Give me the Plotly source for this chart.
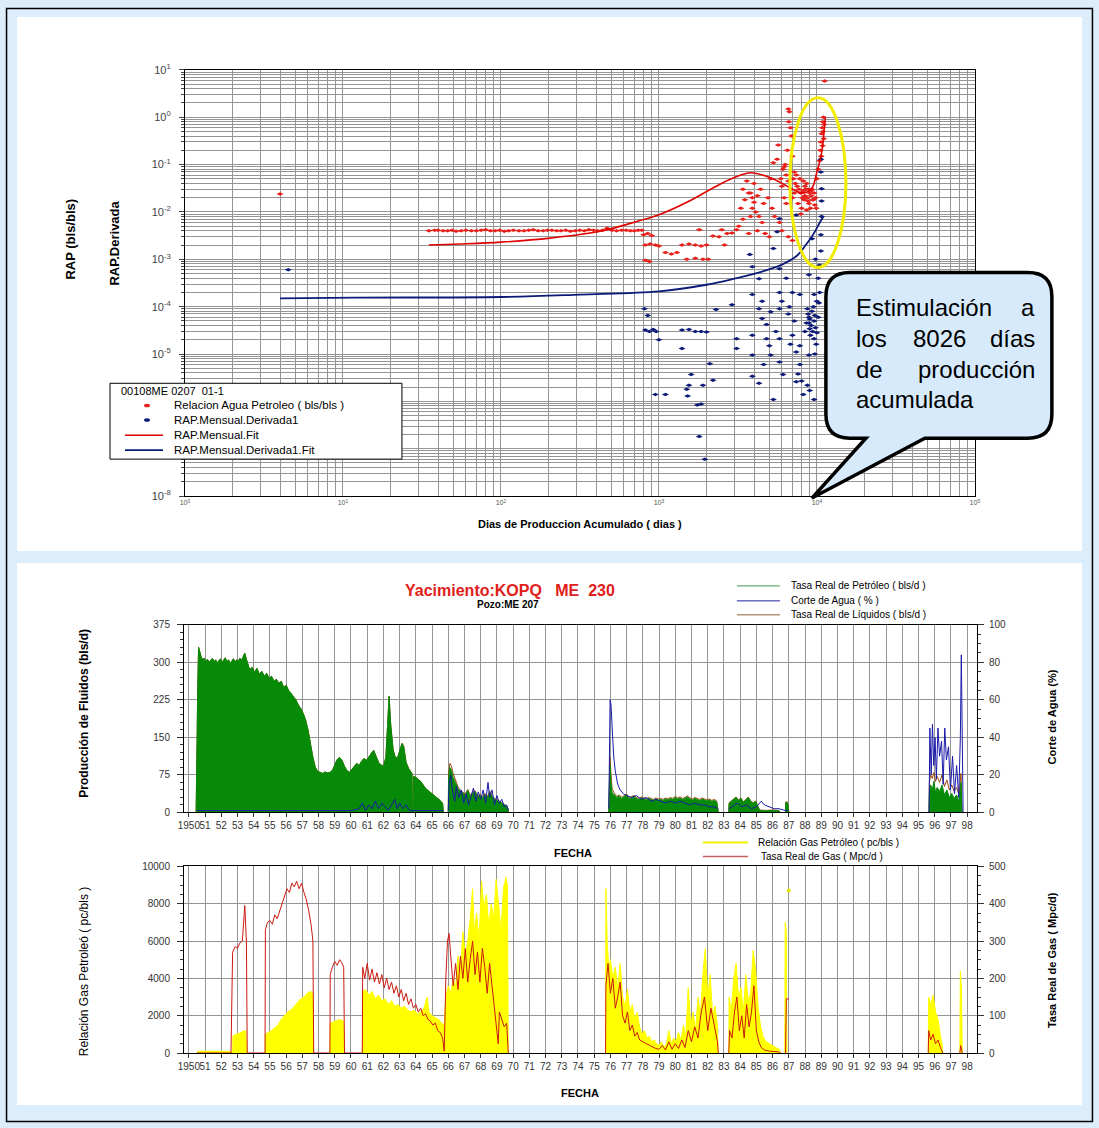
import plotly.graph_objects as go

W, H = 1099, 1128
FONT = "Arial, Liberation Sans, sans-serif"
# the page is photographed with a small offset/scale; map reference pixels onto paper
OFF = 6.0
SW = W * W / (W + 2 * OFF)
SH = H * H / (H + 2 * OFF)


def PX(x):
    return (x - OFF) / SW


def PY(y):
    return 1 - (y - OFF) / SH


# ---------------- TOP CHART DATA (log-log) ----------------
RAP_DAYS = [4, 35, 38, 40, 43, 46, 49, 52, 56, 60, 65, 70, 75, 80, 86, 92, 98, 105, 112, 120, 130, 140, 150, 160, 172,
            185, 197, 210, 225, 240, 257, 275, 295, 315, 337, 360, 385, 410, 440, 470, 505, 540, 580, 620, 660, 700,
            740, 780,
            800, 850, 900, 820, 880, 950, 1000, 820, 870, 1100, 1200, 1300, 1400, 1550, 1700, 1850, 2000, 1500, 1700, 1900, 2050,
            2200, 2400, 2600, 2700, 2900, 1800, 2500, 3100,
            3200, 3400, 3300, 3500, 3700, 3400, 3600, 3900, 4100, 4300, 4500, 4200, 4700, 5000, 4600, 4900, 5200, 5400, 5100,
            5300, 5600, 5700, 5900, 6000, 6200, 6400, 6100, 6300, 6500, 6600, 6700, 6650, 6800, 6900, 7000, 7200, 7100, 7300,
            7500, 7700, 7900, 8100, 8300, 8500, 7600, 8000, 8700, 8900, 9100, 9300, 9600, 9800, 7400, 7800, 8200, 5800, 6000,
            6600, 7000, 8400, 8800, 9200, 9500, 7900, 8600,
            3700, 3800, 3900, 4000, 4200, 4400, 4000, 3800, 8200, 8400, 8600, 8800, 9000, 9200, 9400, 9700, 9900, 7000,
            7200, 6800, 6600, 6400, 6200,
            10000, 10200, 10400, 10500, 10600, 10700, 10800, 10900, 11000, 11100, 10950, 11050, 10850, 10650, 11200]
RAP_VAL = [0.024, 0.004, 0.0041, 0.0041, 0.004, 0.004, 0.0041, 0.0039, 0.004, 0.0041, 0.004, 0.004, 0.0041, 0.0042, 0.004,
           0.004, 0.0041, 0.0039, 0.004, 0.0041, 0.004, 0.004, 0.0041, 0.0042, 0.004,
           0.004, 0.0041, 0.0041, 0.004, 0.004, 0.0041, 0.0039, 0.004, 0.0041, 0.004, 0.0042, 0.0041, 0.004, 0.0041,
           0.0045, 0.0041, 0.004, 0.0041, 0.0041, 0.004, 0.004,
           0.0041, 0.0041,
           0.0033, 0.0035, 0.0032, 0.002, 0.0021, 0.002, 0.0019, 0.00095, 0.0009, 0.0014, 0.0013, 0.0014, 0.002, 0.0021,
           0.002, 0.0019, 0.002, 0.001, 0.00105, 0.001, 0.001, 0.0031, 0.003, 0.002, 0.0035, 0.0036, 0.0042, 0.0042, 0.0042,
           0.005, 0.007, 0.012, 0.018, 0.025, 0.03, 0.045, 0.02, 0.01, 0.008, 0.006, 0.004, 0.0035, 0.003, 0.015, 0.02,
           0.012, 0.008, 0.05, 0.11, 0.13, 0.26, 0.05, 0.035, 0.02, 0.015, 0.08, 0.1, 0.2, 1.5, 1.3, 0.8, 0.6, 0.4, 0.15,
           0.07, 0.05, 0.04, 0.035, 0.03, 0.025, 0.02, 0.018, 0.03, 0.015, 0.012, 0.02, 0.015, 0.012, 0.03, 0.025, 0.02,
           0.06, 0.05, 0.045, 0.006, 0.004, 0.003, 0.0025, 0.022, 0.017, 0.028, 0.018, 0.009, 0.011,
           0.0035, 0.008, 0.012, 0.016, 0.022, 0.03, 0.04, 0.025, 0.028, 0.035, 0.04, 0.03, 0.025, 0.022, 0.018, 0.014,
           0.012, 0.02, 0.025, 0.03, 0.045, 0.06, 0.09,
           0.05, 0.08, 0.12, 0.2, 0.3, 0.45, 0.6, 0.8, 1.0, 0.7, 0.5, 0.35, 0.25, 0.15, 5.8]

DER_DAYS = [4.5, 810, 850, 820, 870, 920, 960, 1000, 1400, 1550, 1700, 1850, 2000, 2300, 2900, 1400, 1600, 1550, 950, 1100,
            1500, 1520, 1750, 1850, 2100, 2200, 1900, 1800, 1950,
            3760, 3900, 4300, 3900, 4500, 5800, 6400, 7000, 7800, 5800, 5300, 5600, 5800, 7400, 8900, 9600, 10000,
            4300, 5100, 5800, 6700, 8700, 8900, 8900, 9000, 9600, 4500, 4800, 3900, 4800, 5800, 7000, 7800, 9600, 3100,
            3100, 3900, 5100, 5800, 7400, 8900, 7800, 7400, 8700, 9600, 5300, 4300, 3900, 6100, 8200,
            8800, 9000, 9200, 9400, 9100, 8600, 9300, 9500, 9700, 8400, 9800, 10000, 9900, 9700, 10200, 10300, 10400,
            10200, 6000, 6600, 7200, 5500, 5000, 4600, 6800, 7600, 8000, 9000,
            10600, 10600, 10700, 10700, 10700, 10600, 10600, 10400, 9800, 9300]
DER_VAL = [6e-4, 9e-5, 6.5e-5, 3.2e-5, 3e-5, 3.3e-5, 3e-5, 2e-5, 3.2e-5, 3.3e-5, 3e-5, 3e-5, 2.9e-5, 8.7e-5, 1.1e-4,
           1.3e-5, 3.7e-6, 2.2e-6, 1.4e-6, 1.4e-6, 1.8e-6, 1.3e-6, 8.4e-7, 8.8e-7, 6.2e-6, 2.8e-6, 2.2e-6, 1.8e-7, 6e-8,
           1.26e-3, 7e-4, 3.9e-4, 1.8e-4, 1.3e-4, 2e-4, 4e-4, 2e-4, 1.8e-4, 6.3e-4, 1.7e-3, 3.8e-3, 7.2e-3, 8.6e-3,
           4.7e-4, 1.8e-4, 1.3e-4, 9e-5, 7.8e-5, 9e-5, 1e-4, 9e-5, 6e-5, 4.5e-5, 3.4e-5, 5e-5, 5.6e-5, 4.2e-5, 2.5e-5,
           2.1e-5, 2.1e-5, 2.5e-5, 1.5e-5, 2.1e-5, 2.1e-5, 1.3e-5, 9.5e-6, 9.5e-6, 6.8e-6, 1.1e-5, 9.5e-6, 6e-6, 2.6e-6,
           2.2e-6, 1.1e-6, 1.1e-6, 2.4e-6, 3.4e-6, 3.7e-6, 1.4e-6,
           7e-5, 5.5e-5, 4e-5, 3e-5, 2.5e-5, 4.5e-5, 8e-5, 1e-4, 6.5e-5, 3e-5, 3.6e-5, 2.8e-5, 1.6e-5, 1e-5, 6e-5,
           1.2e-4, 2e-4, 4e-4, 1.3e-4, 7e-5, 5e-5, 3e-5, 1.5e-5, 6e-6, 1.6e-5, 3.8e-6, 2.7e-6, 1.7e-6,
           0.13, 0.07, 0.031, 0.017, 0.008, 0.0033, 0.0015, 7.5e-4, 1e-3, 2.7e-3]

FIT_DAYS = [35, 55, 100, 205, 425, 760, 1000, 1560, 2450, 3300, 3800, 4700, 5800, 7200, 8100, 9300, 10000, 10500, 10800,
            11100, 11300]
FIT_VAL = [0.0020, 0.0021, 0.0023, 0.0028, 0.0039, 0.0066, 0.0087, 0.017, 0.039, 0.060, 0.067, 0.058, 0.043, 0.029, 0.025,
           0.032, 0.07, 0.13, 0.21, 0.5, 1.0]

DFIT_DAYS = [4, 12, 100, 316, 1000, 2000, 3000, 4500, 6000, 7500, 8500, 9500, 10500, 11000]
DFIT_VAL = [1.5e-4, 1.55e-4, 1.6e-4, 1.8e-4, 2.1e-4, 2.9e-4, 3.9e-4, 5.5e-4, 7.7e-4, 1.2e-3, 2.0e-3, 3.4e-3, 6.2e-3, 8e-3]

LOG_X_TICKS = [1, 10, 100, 1000, 10000, 100000]
LOG_X_LABELS = ["10<sup>0</sup>", "10<sup>1</sup>", "10<sup>2</sup>", "10<sup>3</sup>", "10<sup>4</sup>", "10<sup>5</sup>"]
# 10^-6 and 10^-7 sit under the legend box in the reference, so they carry no visible label
LOG_Y_TICKS = [1e-8, 1e-7, 1e-6, 1e-5, 1e-4, 1e-3, 1e-2, 1e-1, 1, 10]
LOG_Y_LABELS = ["10<sup>-8</sup>", "", "", "10<sup>-5</sup>", "10<sup>-4</sup>",
                "10<sup>-3</sup>", "10<sup>-2</sup>", "10<sup>-1</sup>", "10<sup>0</sup>", "10<sup>1</sup>"]

TOP_LEGEND_TITLE = "00108ME 0207&nbsp;&nbsp;01-1"
TOP_NAMES = ["Relacion Agua Petroleo ( bls/bls )", "RAP.Mensual.Derivada1", "RAP.Mensual.Fit",
             "RAP.Mensual.Derivada1.Fit"]

# ---------------- PRODUCTION CHART DATA ----------------
OIL_T = [1950.45, 1950.5, 1950.55, 1950.6, 1950.65, 1950.75, 1950.85, 1950.95, 1951.05, 1951.15, 1951.25, 1951.35,
         1951.45, 1951.55, 1951.65, 1951.75, 1951.85, 1951.95, 1952.05, 1952.15, 1952.25, 1952.35, 1952.45, 1952.55,
         1952.65, 1952.75, 1952.85, 1952.95, 1953.05, 1953.15, 1953.25, 1953.35, 1953.45, 1953.55, 1953.65, 1953.75,
         1953.9, 1954.05, 1954.2, 1954.35, 1954.5, 1954.65, 1954.8, 1954.95, 1955.1, 1955.25, 1955.4, 1955.55, 1955.7,
         1955.85, 1956.0, 1956.15, 1956.3, 1956.45, 1956.6, 1956.75, 1956.9, 1957.05, 1957.2, 1957.35, 1957.5, 1957.65,
         1957.8, 1957.95, 1958.1, 1958.25, 1958.4, 1958.55, 1958.7, 1958.85, 1959.0, 1959.15, 1959.3, 1959.45, 1959.6,
         1959.75, 1959.9, 1960.05, 1960.2, 1960.35, 1960.5, 1960.65, 1960.8, 1960.95, 1961.1, 1961.25, 1961.4, 1961.55,
         1961.7, 1961.85, 1962.0, 1962.15, 1962.25, 1962.35, 1962.45, 1962.6, 1962.75, 1962.9, 1963.05, 1963.15, 1963.25,
         1963.4, 1963.55, 1963.7, 1963.76, 1963.78, 1963.83, 1963.85, 1964.0, 1964.15, 1964.3, 1964.45, 1964.6, 1964.75,
         1964.9, 1965.05, 1965.2, 1965.35, 1965.5, 1965.65, 1965.7, None,
         1966.0, 1966.02, 1966.1, 1966.2, 1966.3, 1966.45, 1966.6, 1966.75, 1966.9, 1967.05, 1967.2, 1967.35, 1967.5,
         1967.65, 1967.8, 1967.95, 1968.1, 1968.25, 1968.4, 1968.55, 1968.7, 1968.85, 1969.0, 1969.15, 1969.3, 1969.45,
         1969.6, 1969.68, 1969.7, None,
         1975.9, 1975.92, 1975.97, 1976.03, 1976.1, 1976.25, 1976.4, 1976.55, 1976.7, 1976.85, 1977.0, 1977.15, 1977.3,
         1977.45, 1977.6, 1977.75, 1977.9, 1978.05, 1978.2, 1978.35, 1978.5, 1978.65, 1978.8, 1978.95, 1979.1, 1979.25,
         1979.4, 1979.55, 1979.7, 1979.85, 1980.0, 1980.15, 1980.3, 1980.45, 1980.6, 1980.75, 1980.9, 1981.05, 1981.2,
         1981.35, 1981.5, 1981.65, 1981.8, 1981.95, 1982.1, 1982.25, 1982.4, 1982.55, 1982.65, None,
         1983.3, 1983.32, 1983.45, 1983.6, 1983.75, 1983.9, 1984.05, 1984.2, 1984.35, 1984.5, 1984.65, 1984.8, 1984.95,
         1985.1, 1985.2, 1985.6, 1986.0, 1986.4, 1986.45, None,
         1986.8, 1986.82, 1986.9, 1986.95, 1987.0, None,
         1995.65, 1995.67, 1995.75, 1995.85, 1995.95, 1996.05, 1996.15, 1996.3, 1996.45, 1996.6, 1996.75, 1996.9,
         1997.05, 1997.2, 1997.35, 1997.5, 1997.62, 1997.68]
OIL_Q = [0, 160, 250, 330, 322, 312, 305, 308, 302, 306, 300, 304,
         308, 301, 305, 299, 303, 307, 300, 304, 309, 301, 305, 298,
         303, 307, 300, 305, 302, 308, 304, 312, 318, 306, 295, 285,
         290, 280, 288, 276, 282, 272, 278, 268, 272, 262, 266, 258, 262,
         250, 254, 244, 238, 232, 225, 215, 208, 198, 185, 165, 135, 110,
         90, 82, 80, 78, 81, 79, 80, 84, 95, 106, 110, 104, 92,
         84, 80, 85, 92, 98, 94, 102, 108, 104, 112, 118, 124, 112,
         100, 95, 92, 110, 170, 232, 175, 125, 108, 112, 128, 138, 132,
         100, 88, 82, 78, 0, 0, 72, 70, 66, 62, 55, 48, 44,
         40, 36, 32, 28, 24, 18, 0, None,
         0, 70, 90, 84, 70, 58, 48, 42, 38, 35, 44, 32, 38,
         42, 30, 34, 30, 36, 28, 40, 32, 26, 24, 22, 18, 16,
         12, 8, 0, None,
         0, 60, 95, 60, 40, 35, 30, 33, 28, 32, 35, 27, 30,
         32, 28, 26, 29, 27, 25, 28, 26, 24, 27, 25, 26, 24,
         27, 25, 28, 26, 30, 27, 29, 26, 28, 31, 27, 25, 28,
         26, 24, 27, 25, 23, 25, 22, 24, 21, 0, None,
         0, 18, 22, 26, 30, 24, 28, 20, 26, 30, 22, 18, 22,
         12, 4, 3, 4, 3, 0, None,
         0, 20, 20, 15, 0, None,
         0, 35, 55, 45, 62, 40, 50, 42, 55, 35, 45, 30,
         38, 28, 35, 22, 60, 0]
# liquids rate, sampled on the same dates as OIL_T
LIQ_Q = [0, 160, 250, 330, 322, 312, 305, 308, 302, 306, 300, 304,
         308, 301, 305, 299, 303, 307, 300, 304, 309, 301, 305, 298,
         303, 307, 300, 305, 302, 308, 304, 312, 318, 306, 295, 285,
         290, 280, 288, 276, 282, 272, 278, 268, 272, 262, 266, 258, 262,
         250, 254, 244, 238, 232, 225, 215, 208, 198, 185, 165, 135, 110,
         90, 82, 80, 78, 81, 79, 80, 84, 95, 106, 110, 104, 92,
         84, 80, 85, 92, 98, 94, 102, 108, 104, 112, 118, 124, 112,
         100, 95, 92, 110, 170, 232, 175, 125, 108, 112, 128, 138, 132,
         100, 88, 82, 78, 0, 0, 72, 70, 66, 62, 55, 48, 44,
         40, 36, 32, 28, 24, 18, 0, None,
         0, 80, 98, 92, 78, 62, 51, 44, 40, 37, 46, 34, 40,
         44, 32, 36, 32, 38, 30, 43, 34, 28, 26, 23, 19, 17,
         13, 8, 0, None,
         0, 75, 110, 80, 48, 38, 32, 35, 30, 34, 37, 29, 32,
         34, 30, 28, 31, 29, 27, 30, 28, 26, 29, 27, 28, 26,
         29, 27, 30, 28, 32, 29, 31, 28, 30, 33, 29, 27, 30,
         28, 26, 29, 27, 25, 27, 24, 26, 23, 0, None,
         0, 19, 23, 27, 31, 25, 29, 21, 27, 31, 23, 19, 23,
         13, 5, 4, 5, 4, 0, None,
         0, 21, 21, 16, 0, None,
         0, 60, 75, 68, 80, 62, 72, 60, 75, 52, 65, 45,
         55, 42, 50, 35, 78, 0]

WC_T = [1950.5, 1952.0, 1954.0, 1956.0, 1958.0, 1960.0, 1960.5, 1960.7, 1960.9, 1961.1, 1961.3, 1961.5, 1961.7, 1961.9,
        1962.1, 1962.3, 1962.5, 1962.7, 1962.85, 1963.0, 1963.2, 1963.4, 1963.6, 1964.0, 1965.0, 1965.7, None,
        1966.0, 1966.05, 1966.15, 1966.25, 1966.4, 1966.5, 1966.65, 1966.8, 1966.95, 1967.1, 1967.25, 1967.4, 1967.55,
        1967.7, 1967.85, 1968.0, 1968.15, 1968.3, 1968.45, 1968.55, 1968.7, 1968.85, 1969.0, 1969.15, 1969.3, 1969.45,
        1969.6, 1969.7, None,
        1975.9, 1975.93, 1975.98, 1976.03, 1976.1, 1976.2, 1976.3, 1976.45, 1976.6, 1976.8, 1977.0, 1977.3, 1977.6,
        1977.9, 1978.2, 1978.5, 1978.8, 1979.1, 1979.4, 1979.7, 1980.0, 1980.3, 1980.6, 1980.9, 1981.2, 1981.5, 1981.8,
        1982.1, 1982.4, 1982.65, None,
        1983.3, 1983.5, 1983.8, 1984.1, 1984.4, 1984.7, 1985.0, 1985.3, 1985.5, 1985.8, 1986.1, 1986.4, 1986.8, 1987.0,
        None,
        1995.65, 1995.7, 1995.78, 1995.86, 1995.94, 1996.02, 1996.1, 1996.2, 1996.3, 1996.42, 1996.52, 1996.62,
        1996.72, 1996.85, 1996.97, 1997.1, 1997.22, 1997.35, 1997.48, 1997.58, 1997.64, 1997.7, 1997.75]
WC_V = [1, 1, 1, 1, 1, 1, 2, 5, 1, 4, 2, 6, 2, 5,
        3, 1, 4, 7, 2, 5, 2, 4, 1, 1, 1, 1, None,
        1, 15, 20, 12, 6, 14, 8, 12, 5, 10, 4, 9, 13,
        6, 11, 7, 12, 5, 16, 8, 12, 4, 9, 5, 7, 3,
        4, 1, None,
        2, 45, 60, 58, 45, 30, 22, 15, 12, 10, 9, 8, 9,
        7, 8, 6, 7, 6, 5, 6, 5, 6, 5, 4, 5, 4, 4,
        3, 3, 2, None,
        2, 3, 5, 3, 4, 2, 3, 6, 4, 3, 2, 2, 1, 1,
        None,
        0, 45, 20, 47, 25, 40, 18, 45, 30, 38, 15, 45,
        28, 35, 12, 30, 10, 25, 8, 40, 84, 30, 0]

PROD_NAMES = ["Tasa Real de Petróleo ( bls/d )", "Corte de Agua ( % )", "Tasa Real de Líquidos ( bls/d )"]

# ---------------- GAS CHART DATA ----------------
GOR_T = [1950.5, 1950.55, 1951.0, 1951.5, 1952.0, 1952.6, 1952.7, 1952.72, 1952.9, 1953.1, 1953.3, 1953.5, 1953.6, None,
         1954.7, 1954.72, 1954.9, 1955.1, 1955.3, 1955.5, 1955.7, 1955.9, 1956.1, 1956.3, 1956.5, 1956.7, 1956.9,
         1957.1, 1957.3, 1957.5, 1957.65, 1957.7, None,
         1958.7, 1958.72, 1959.0, 1959.3, 1959.55, 1959.6, None,
         1960.7, 1960.72, 1960.9, 1961.1, 1961.3, 1961.5, 1961.7, 1961.9, 1962.1, 1962.3, 1962.5, 1962.7, 1962.9,
         1963.1, 1963.3, 1963.5, 1963.7, 1963.9, 1964.1, 1964.3, 1964.5, 1964.7, 1964.8, 1965.0, 1965.2, 1965.4,
         1965.6, 1965.75, 1965.85, 1966.0, 1966.15, 1966.3, 1966.45, 1966.6, 1966.75, 1966.9, 1967.05, 1967.2,
         1967.35, 1967.5, 1967.6, 1967.75, 1967.9, 1968.05, 1968.2, 1968.35, 1968.5, 1968.65, 1968.8, 1968.95,
         1969.1, 1969.25, 1969.4, 1969.55, 1969.65, 1969.7, None,
         1975.7, 1975.72, 1975.8, 1975.9, 1976.0, 1976.15, 1976.3, 1976.45, 1976.6, 1976.75, 1976.9, 1977.05, 1977.2,
         1977.35, 1977.5, 1977.65, 1977.8, 1977.95, 1978.1, 1978.25, 1978.4, 1978.55, 1978.7, 1978.85, 1979.0,
         1979.15, 1979.3, 1979.45, 1979.6, 1979.75, 1979.9, 1980.05, 1980.2, 1980.35, 1980.5, 1980.65, 1980.8,
         1980.95, 1981.1, 1981.25, 1981.4, 1981.55, 1981.7, 1981.85, 1982.0, 1982.15, 1982.3, 1982.45, 1982.6,
         1982.65, None,
         1983.3, 1983.32, 1983.45, 1983.6, 1983.75, 1983.9, 1984.05, 1984.2, 1984.35, 1984.5, 1984.65, 1984.8,
         1984.95, 1985.1, 1985.25, 1985.4, 1985.6, 1985.8, 1986.0, 1986.2, 1986.4, 1986.5, None,
         1986.75, 1986.78, 1986.85, 1986.88, None,
         1995.6, 1995.62, 1995.75, 1995.9, 1996.05, 1996.2, 1996.35, 1996.45, 1996.5, None,
         1997.55, 1997.58, 1997.65, 1997.7]
GOR_V = [0, 90, 100, 90, 100, 90, 0, 900, 1000, 1050, 1150, 1200, 0, None,
         0, 1000, 1100, 1200, 1350, 1500, 1800, 2000, 2200, 2300, 2500, 2700, 2900,
         3000, 3200, 3300, 3200, 0, None,
         0, 1600, 1700, 1800, 1700, 0, None,
         0, 3300, 3400, 3100, 3300, 2900, 3100, 2800, 2900, 2600, 2800, 2500, 2600,
         2400, 2500, 2300, 2200, 2300, 2100, 2200, 2400, 3000, 2200, 2000, 1900, 1800,
         1600, 1500, 3000, 3600, 3200, 4000, 3500, 5200, 4500, 6500, 5200, 6000,
         7200, 8800, 6500, 7500, 6000, 9200, 7800, 8500, 6800, 8000, 7200, 9300,
         8000, 6500, 8800, 9400, 9000, 0, None,
         0, 8800, 6000, 4500, 5000, 4000, 4600, 3500, 4800, 3000, 2500, 3400, 2200,
         2600, 1800, 2200, 1400, 1000, 1200, 800, 900, 600, 700, 500, 400,
         600, 300, 500, 1200, 500, 800, 600, 1100, 700, 1500, 900, 3500,
         1500, 2200, 1200, 3000, 2000, 4200, 5600, 3000, 4200, 2000, 2500, 1500,
         0, None,
         0, 3000, 2200, 4000, 4800, 3000, 3500, 2200, 4200, 2800, 3200, 5500,
         4500, 2500, 1500, 900, 600, 500, 400, 300, 200, 0, None,
         0, 7000, 6500, 0, None,
         0, 3000, 2600, 3100, 2200, 1800, 900, 500, 0, None,
         0, 4400, 3500, 0]
GOR_DOT_T = [1987.0]
GOR_DOT_V = [8700]

GAS_T = [1950.5, 1952.6, 1952.7, 1952.85, 1953.0, 1953.15, 1953.3, 1953.45, 1953.55, 1953.6, 1954.7, 1954.72, 1954.85,
         1955.0, 1955.15, 1955.3, 1955.45, 1955.6, 1955.75, 1955.9, 1956.05, 1956.2, 1956.35, 1956.5, 1956.65, 1956.8,
         1956.95, 1957.1, 1957.25, 1957.4, 1957.55, 1957.65, 1957.7, 1958.7, 1958.72, 1958.85, 1959.0, 1959.15, 1959.3,
         1959.45, 1959.55, 1959.6, 1960.7, 1960.72, 1960.85, 1961.0, 1961.15, 1961.3, 1961.45, 1961.6, 1961.75, 1961.9,
         1962.05, 1962.2, 1962.35, 1962.5, 1962.65, 1962.8, 1962.95, 1963.1, 1963.25, 1963.4, 1963.55, 1963.7, 1963.85,
         1964.0, 1964.15, 1964.3, 1964.45, 1964.6, 1964.75, 1964.9, 1965.05, 1965.2, 1965.35, 1965.5, 1965.65, 1965.75,
         1965.85, 1965.95, 1966.05, 1966.15, 1966.3, 1966.45, 1966.6, 1966.75, 1966.9, 1967.05, 1967.2, 1967.35, 1967.5,
         1967.65, 1967.8, 1967.95, 1968.1, 1968.25, 1968.4, 1968.55, 1968.7, 1968.85, 1969.0, 1969.08, 1969.15, 1969.3,
         1969.45, 1969.6, 1969.7, None,
         1975.7, 1975.72, 1975.85, 1976.0, 1976.15, 1976.3, 1976.45, 1976.6, 1976.75, 1976.9, 1977.05, 1977.2, 1977.35,
         1977.5, 1977.65, 1977.8, 1978.0, 1978.2, 1978.4, 1978.6, 1978.8, 1979.0, 1979.2, 1979.4, 1979.6, 1979.8,
         1980.0, 1980.2, 1980.4, 1980.6, 1980.8, 1981.0, 1981.2, 1981.4, 1981.6, 1981.8, 1982.0, 1982.2, 1982.4,
         1982.6, 1982.65, None,
         1983.3, 1983.35, 1983.5, 1983.65, 1983.8, 1983.95, 1984.1, 1984.25, 1984.4, 1984.55, 1984.7, 1984.85, 1985.0,
         1985.15, 1985.3, 1985.5, 1985.8, 1986.1, 1986.4, 1986.5, None,
         1986.8, 1986.85, 1987.0, None,
         1995.6, 1995.63, 1995.75, 1995.9, 1996.05, 1996.2, 1996.35, 1996.5, None,
         1997.55, 1997.6, 1997.7]
GAS_V = [0, 0, 270, 285, 280, 295, 300, 395, 300, 0, 0, 330, 350,
         355, 345, 370, 360, 380, 395, 420, 440, 430, 455, 445, 460, 440,
         455, 430, 410, 380, 340, 300, 0, 0, 210, 230, 245, 235, 250,
         240, 230, 0, 0, 230, 200, 240, 195, 225, 190, 215, 185, 210,
         175, 200, 170, 190, 160, 180, 150, 170, 140, 160, 130, 145, 120,
         130, 110, 120, 100, 105, 90, 85, 75, 80, 60, 55, 40, 5,
         200, 300, 320, 260, 180, 240, 170, 260, 200, 280, 190, 250, 300,
         210, 270, 190, 280, 230, 160, 240, 180, 120, 60, 25, 110, 90,
         70, 80, 0, None,
         0, 180, 240, 160, 200, 120, 150, 190, 100, 80, 110, 60, 75,
         45, 55, 35, 30, 25, 20, 15, 12, 10, 20, 8, 30, 10,
         25, 12, 35, 15, 60, 30, 70, 40, 110, 150, 60, 120, 70,
         30, 0, None,
         0, 60, 40, 110, 150, 60, 100, 40, 130, 70, 110, 180, 60,
         30, 15, 8, 5, 5, 3, 0, None,
         0, 145, 145, None,
         0, 60, 35, 50, 25, 35, 15, 0, None,
         0, 20, 0]

GAS_NAMES = ["Relación Gas Petróleo ( pc/bls )", "Tasa Real de Gas ( Mpc/d )"]

YEARS = list(range(1950, 1999))
YEAR_LABELS = ["1950"] + ["%02d" % (y % 100) for y in YEARS[1:]]
PROD_TICKS = [0, 75, 150, 225, 300, 375]
WC_TICKS = [0, 20, 40, 60, 80, 100]
GOR_TICKS = [0, 2000, 4000, 6000, 8000, 10000]
GOR_TICK_LABELS = ["0", "2000", "4000", "6000", "8000", "10000"]
GAS_TICKS = [0, 100, 200, 300, 400, 500]

# ---------------- COLOURS ----------------
BG = "#dcedfc"
GRID = "#959595"
RED_PT = "#e8201a"
NAVY = "#0c1a78"
GREEN = "#078a07"
BLUE_WC = "#1a1aa8"
BROWN = "#9a4a10"
YELLOW = "#ffff00"
GASRED = "#cc1a10"

fig = go.Figure()

# ---------- top chart traces ----------
fig.add_trace(go.Scatter(x=RAP_DAYS, y=RAP_VAL, mode="markers", name=TOP_NAMES[0],
                         marker=dict(symbol="diamond-wide", size=5, color=RED_PT), xaxis="x", yaxis="y"))
fig.add_trace(go.Scatter(x=DER_DAYS, y=DER_VAL, mode="markers", name=TOP_NAMES[1],
                         marker=dict(symbol="diamond-wide", size=5, color=NAVY), xaxis="x", yaxis="y"))
fig.add_trace(go.Scatter(x=FIT_DAYS, y=FIT_VAL, mode="lines", name=TOP_NAMES[2],
                         line=dict(color="#e00000", width=1.6, shape="spline"), xaxis="x", yaxis="y"))
fig.add_trace(go.Scatter(x=DFIT_DAYS, y=DFIT_VAL, mode="lines", name=TOP_NAMES[3],
                         line=dict(color=NAVY, width=1.8, shape="spline"), xaxis="x", yaxis="y"))

# ---------- production chart ----------
fig.add_trace(go.Scatter(x=OIL_T, y=LIQ_Q, mode="lines", name=PROD_NAMES[2],
                         line=dict(color=BROWN, width=1), xaxis="x2", yaxis="y2"))
fig.add_trace(go.Scatter(x=OIL_T, y=OIL_Q, mode="lines", fill="tozeroy", fillcolor=GREEN, name=PROD_NAMES[0],
                         line=dict(color=GREEN, width=1), xaxis="x2", yaxis="y2"))
fig.add_trace(go.Scatter(x=WC_T, y=WC_V, mode="lines", name=PROD_NAMES[1],
                         line=dict(color=BLUE_WC, width=1), xaxis="x2", yaxis="y3"))

# ---------- gas chart ----------
fig.add_trace(go.Scatter(x=GOR_T, y=GOR_V, mode="lines", fill="tozeroy", fillcolor=YELLOW, name=GAS_NAMES[0],
                         line=dict(color=YELLOW, width=1), xaxis="x3", yaxis="y4"))
fig.add_trace(go.Scatter(x=GOR_DOT_T, y=GOR_DOT_V, mode="markers", marker=dict(color="#e8e800", size=4),
                         name=GAS_NAMES[0], xaxis="x3", yaxis="y4"))
fig.add_trace(go.Scatter(x=GAS_T, y=GAS_V, mode="lines", name=GAS_NAMES[1],
                         line=dict(color=GASRED, width=1), xaxis="x3", yaxis="y5"))

tickfont = dict(family=FONT, size=10, color="#333333")

log_common = dict(type="log", showgrid=True, gridcolor=GRID, gridwidth=1, showline=True, linecolor="black",
                  linewidth=1, mirror=True, zeroline=False)

year_axis = dict(range=[1949.7, 1998.6], tickmode="array", tickvals=YEARS, ticktext=YEAR_LABELS, tickangle=0,
                 showgrid=True, gridcolor=GRID, gridwidth=1, showline=True, linecolor="black", mirror=True,
                 ticks="outside", ticklen=4, tickcolor="#333", tickfont=tickfont, zeroline=False)

lin_left = dict(showgrid=True, gridcolor=GRID, showline=True, linecolor="black", ticks="outside", ticklen=6,
                tickcolor="#333", tickfont=tickfont, zeroline=False, ticklabelstandoff=5)

layout = dict(
    width=W, height=H, autosize=False, showlegend=False,
    margin=dict(l=0, r=0, t=0, b=0),
    paper_bgcolor=BG, plot_bgcolor="white",
    font=dict(family=FONT, color="black"),
    xaxis=dict(domain=[PX(185), PX(975)], range=[0, 5], anchor="y", tickvals=LOG_X_TICKS, ticktext=LOG_X_LABELS,
               tickfont=dict(family=FONT, size=7, color="#555"), ticks="",
               minor=dict(dtick="D1", showgrid=True, gridcolor=GRID, gridwidth=1), **log_common),
    yaxis=dict(domain=[PY(495), PY(68)], range=[-8, 1], anchor="x", tickvals=LOG_Y_TICKS, ticktext=LOG_Y_LABELS,
               tickfont=dict(family=FONT, size=11, color="#444"), ticks="outside", ticklen=5, tickcolor="#444",
               ticklabelstandoff=6,
               minor=dict(dtick="D1", showgrid=True, gridcolor=GRID, gridwidth=1, ticks="outside", ticklen=3,
                          tickcolor="#444"), **log_common),
    xaxis2=dict(domain=[PX(184), PX(977)], anchor="y2", **year_axis),
    yaxis2=dict(domain=[PY(812), PY(624)], range=[0, 375], anchor="x2", tickvals=PROD_TICKS,
                minor=dict(dtick=15, ticks="outside", ticklen=3, tickcolor="#333"), **lin_left),
    yaxis3=dict(range=[0, 100], overlaying="y2", anchor="x2", side="right", tickvals=WC_TICKS,
                showgrid=False, ticks="outside", ticklen=6, tickcolor="#333", tickfont=tickfont, zeroline=False,
                ticklabelstandoff=3,
                minor=dict(dtick=5, ticks="outside", ticklen=3, tickcolor="#333"), showline=True, linecolor="black"),
    xaxis3=dict(domain=[PX(184), PX(977)], anchor="y4", **year_axis),
    yaxis4=dict(domain=[PY(1053), PY(866)], range=[0, 10000], anchor="x3", tickvals=GOR_TICKS,
                ticktext=GOR_TICK_LABELS,
                minor=dict(dtick=500, ticks="outside", ticklen=3, tickcolor="#333"), **lin_left),
    yaxis5=dict(range=[0, 500], overlaying="y4", anchor="x3", side="right", tickvals=GAS_TICKS,
                showgrid=False, ticks="outside", ticklen=6, tickcolor="#333", tickfont=tickfont, zeroline=False,
                ticklabelstandoff=3,
                minor=dict(dtick=25, ticks="outside", ticklen=3, tickcolor="#333"), showline=True, linecolor="black"),
)
fig.update_layout(**layout)


def P(x, y):
    return "%.5f,%.5f" % (PX(x), PY(y))


def hline(x0, x1, y, color, width=1.5):
    return dict(type="line", xref="paper", yref="paper", x0=PX(x0), x1=PX(x1), y0=PY(y), y1=PY(y),
                line=dict(color=color, width=width), layer="above")


# ---------- background panels, legends, bubble, ellipse ----------
shapes = [
    dict(type="rect", xref="paper", yref="paper", x0=PX(17), x1=PX(1082), y0=PY(550), y1=PY(15),
         fillcolor="white", line=dict(width=0), layer="below"),
    dict(type="rect", xref="paper", yref="paper", x0=PX(17), x1=PX(1082), y0=PY(1105), y1=PY(562),
         fillcolor="white", line=dict(width=0), layer="below"),
    dict(type="rect", xref="paper", yref="paper", x0=0.0005, x1=0.9995, y0=0.0005, y1=0.9995,
         line=dict(color="black", width=1.5), layer="above"),
    # top legend box
    dict(type="rect", xref="paper", yref="paper", x0=PX(110), x1=PX(402), y0=PY(458), y1=PY(382),
         fillcolor="white", line=dict(color="black", width=1), layer="above"),
    dict(type="circle", xref="paper", yref="paper", x0=PX(144), x1=PX(150), y0=PY(406), y1=PY(402.5),
         fillcolor=RED_PT, line=dict(width=0), layer="above"),
    dict(type="circle", xref="paper", yref="paper", x0=PX(144), x1=PX(150), y0=PY(420.5), y1=PY(417),
         fillcolor=NAVY, line=dict(width=0), layer="above"),
    hline(125, 163, 434, "#e00000", 1.5),
    hline(125, 163, 449, NAVY, 1.8),
    # production legend
    hline(737, 780, 585, "#3c9a4a", 1),
    hline(737, 780, 600, "#2020a0", 1),
    hline(737, 780, 614, "#8a6030", 1),
    # gas legend
    hline(703, 748, 842, "#f0f000", 2),
    hline(703, 748, 856, "#c86060", 1.5),
]

L, R, T, B, r = 826, 1052, 271, 437, 24
bubble = ("M " + P(L + r, T) + " L " + P(R - r, T) + " Q " + P(R, T) + " " + P(R, T + r) +
          " L " + P(R, B - r) + " Q " + P(R, B) + " " + P(R - r, B) +
          " L " + P(925, B) + " L " + P(812, 497) + " L " + P(866, B) +
          " L " + P(L + r, B) + " Q " + P(L, B) + " " + P(L, B - r) +
          " L " + P(L, T + r) + " Q " + P(L, T) + " " + P(L + r, T) + " Z")
shapes.append(dict(type="path", xref="paper", yref="paper", path=bubble, fillcolor="#d6eafb",
                   line=dict(color="black", width=3.5), layer="above"))
shapes.append(dict(type="circle", xref="paper", yref="paper", x0=PX(790), x1=PX(846), y0=PY(266), y1=PY(96),
                   line=dict(color="#f2ec00", width=3), layer="above"))
fig.update_layout(shapes=shapes)


def ann(text, x, y, size=12, bold=False, color="black", angle=0, xanchor="center", yanchor="middle"):
    t = "<b>%s</b>" % text if bold else text
    return dict(text=t, x=PX(x), y=PY(y), xref="paper", yref="paper", showarrow=False, textangle=angle,
                xanchor=xanchor, yanchor=yanchor, borderpad=0, font=dict(family=FONT, size=size, color=color))


annotations = [
    ann("RAP (bls/bls)", 71, 237, size=13, bold=True, angle=-90),
    ann("RAP.Derivada", 115, 241, size=13, bold=True, angle=-90),
    ann("Dias de Produccion Acumulado ( dias )", 580, 523, size=11, bold=True),
    # top legend
    ann(TOP_LEGEND_TITLE, 120, 390, size=11, xanchor="left"),
    ann(TOP_NAMES[0], 173, 404, size=11.5, xanchor="left"),
    ann(TOP_NAMES[1], 173, 419, size=11.5, xanchor="left"),
    ann(TOP_NAMES[2], 173, 434, size=11.5, xanchor="left"),
    ann(TOP_NAMES[3], 173, 449, size=11.5, xanchor="left"),
    # production chart
    ann("Yacimiento:KOPQ&nbsp;&nbsp;&nbsp;ME&nbsp;&nbsp;230", 510, 590, size=16, bold=True, color="#e0201a"),
    ann("Pozo:ME 207", 508, 604, size=10, bold=True),
    ann(PROD_NAMES[0], 790, 585, size=10, xanchor="left"),
    ann(PROD_NAMES[1], 790, 600, size=10, xanchor="left"),
    ann(PROD_NAMES[2], 790, 614, size=10, xanchor="left"),
    ann("Producción de Fluidos (bls/d)", 84, 712, size=12, bold=True, angle=-90),
    ann("Corte de Agua (%)", 1052, 716, size=11, bold=True, angle=-90),
    ann("FECHA", 573, 853, size=11, bold=True),
    # gas chart
    ann(GAS_NAMES[0], 757, 842, size=10, xanchor="left"),
    ann(GAS_NAMES[1], 760, 856, size=10, xanchor="left"),
    ann("Relación Gas Petroleó ( pc/bls )", 84, 971, size=12, angle=-90),
    ann("Tasa Real de Gas ( Mpc/d)", 1052, 960, size=11, bold=True, angle=-90),
    ann("FECHA", 580, 1093, size=11, bold=True),
    # bubble text (justified lines)
    ann("Estimulación", 855, 306, size=24, xanchor="left"),
    ann("a", 1036, 306, size=24, xanchor="right"),
    ann("los", 855, 337, size=24, xanchor="left"),
    ann("8026", 940, 337, size=24),
    ann("días", 1036, 337, size=24, xanchor="right"),
    ann("de", 855, 368, size=24, xanchor="left"),
    ann("producción", 1036, 368, size=24, xanchor="right"),
    ann("acumulada", 855, 398, size=24, xanchor="left"),
]
fig.update_layout(annotations=annotations)

fig.write_html("out.html", config={"displayModeBar": False},
               post_script="document.body.style.margin='0';document.body.style.overflow='hidden';"
                           "document.body.style.background='" + BG + "';")
